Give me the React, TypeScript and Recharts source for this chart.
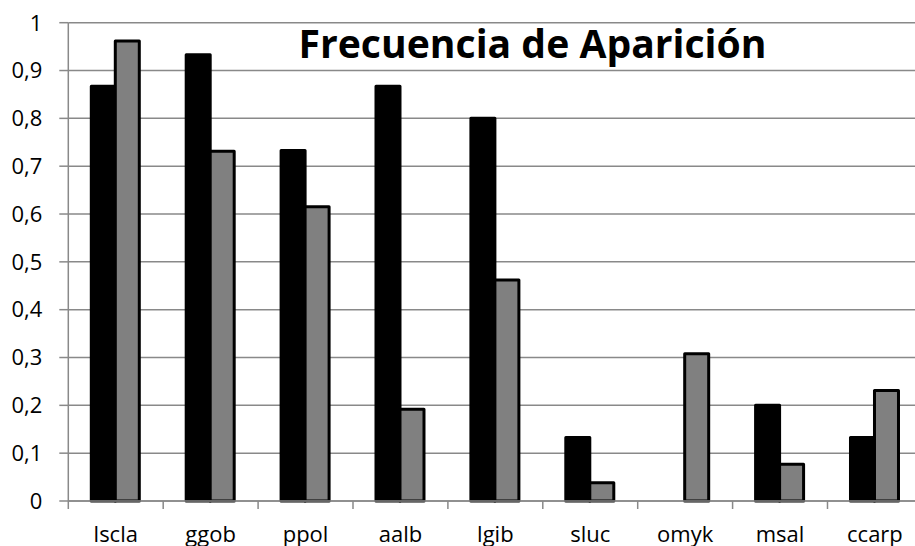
import React from 'react';
import { BarChart, Bar, XAxis, YAxis, CartesianGrid } from 'recharts';

const categories = ['lscla', 'ggob', 'ppol', 'aalb', 'lgib', 'sluc', 'omyk', 'msal', 'ccarp'];
const seriesBlack = [0.867, 0.933, 0.733, 0.867, 0.8, 0.133, 0, 0.2, 0.133];
const seriesGray = [0.962, 0.731, 0.615, 0.192, 0.462, 0.038, 0.308, 0.077, 0.231];
const yTicks = [0, 0.1, 0.2, 0.3, 0.4, 0.5, 0.6, 0.7, 0.8, 0.9, 1];
const title = 'Frecuencia de Aparición';

const data = categories.map((c, i) => ({ name: c, a: seriesBlack[i], b: seriesGray[i] }));

const CHART_W = 922.4;
const CHART_H = 546;
const Y_AXIS_W = 68.3;
const TOP = 22.7;
const X_AXIS_H = 45;
const AXIS_Y = CHART_H - X_AXIS_H;
const BAND = (CHART_W - Y_AXIS_W) / categories.length;
const GRID = '#898989';
const FONT = '"Open Sans", sans-serif';

const fmt = (v: number) => (v === 0 || v === 1 ? String(v) : v.toFixed(1).replace('.', ','));

const XTick = (props: any) => {
  const { x, payload } = props;
  const left = x - BAND / 2;
  return (
    <g>
      <line x1={left} x2={left} y1={AXIS_Y} y2={AXIS_Y + 8} stroke={GRID} strokeWidth={1.5} />
      <text x={x} y={542} textAnchor="middle" fontSize={22} fontFamily={FONT} fill="#000">
        {payload.value}
      </text>
    </g>
  );
};

export default function App() {
  return (
    <div style={{ position: 'absolute', left: 0, top: 0, width: 915, height: 546, overflow: 'hidden', background: '#fff' }}>
      <BarChart
        width={CHART_W}
        height={CHART_H}
        data={data}
        margin={{ top: TOP, right: 0, bottom: 0, left: 0 }}
        barGap={0}
      >
        <CartesianGrid vertical={false} stroke={GRID} strokeWidth={1.5} />
        <XAxis
          dataKey="name"
          height={X_AXIS_H}
          interval={0}
          axisLine={{ stroke: GRID, strokeWidth: 1.5 }}
          tickLine={false}
          tick={<XTick />}
        />
        <YAxis
          width={Y_AXIS_W}
          domain={[0, 1]}
          ticks={yTicks}
          tickFormatter={fmt}
          tickSize={9}
          tickMargin={17}
          axisLine={{ stroke: GRID, strokeWidth: 1.5 }}
          tickLine={{ stroke: GRID, strokeWidth: 1.5 }}
          tick={{ fontSize: 22, fill: '#000', fontFamily: FONT }}
          interval={0}
        />
        <Bar dataKey="a" fill="#000000" stroke="#000000" strokeWidth={3} strokeLinejoin="round" barSize={24} isAnimationActive={false} />
        <Bar dataKey="b" fill="#808080" stroke="#000000" strokeWidth={3} strokeLinejoin="round" barSize={24} isAnimationActive={false} />
      </BarChart>
      <svg width={915} height={546} style={{ position: 'absolute', left: 0, top: 0, pointerEvents: 'none' }}>
        <text
          x={532.5}
          y={58.3}
          textAnchor="middle"
          fontSize={39}
          fontWeight="bold"
          fontFamily={FONT}
          fill="#000"
          textLength={468}
          lengthAdjust="spacingAndGlyphs"
        >
          {title}
        </text>
      </svg>
    </div>
  );
}
